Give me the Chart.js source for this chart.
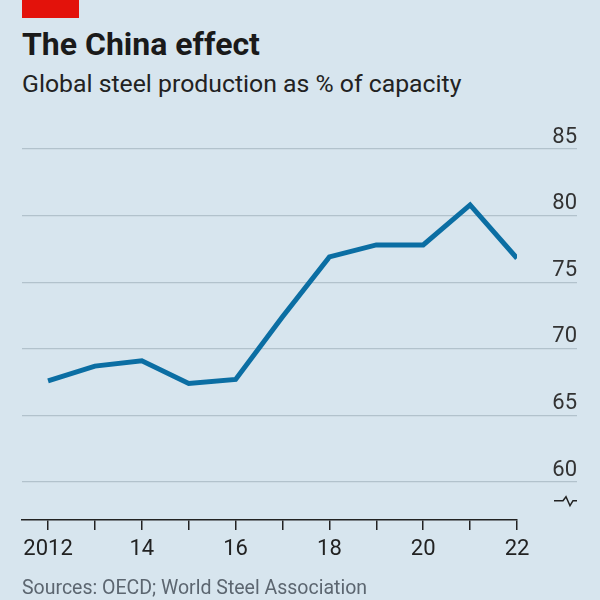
<!DOCTYPE html>
<html>
<head>
    <title>The China effect</title>
    <style>
        body {
            margin: 0;
            background-color: #d7e5ee;
            font-family: Roboto, sans-serif;
        }

        #page {
            position: relative;
            width: 600px;
            height: 600px;
            overflow: hidden;
        }

        .red-tag {
            position: absolute;
            left: 22px;
            top: 0;
            width: 57px;
            height: 18px;
            background-color: #e3120b;
        }

        .text {
            position: absolute;
            left: 22px;
            line-height: 1;
            white-space: nowrap;
        }

        #title {
            top: 28px;
            font-size: 32px;
            font-weight: bold;
            color: #1a1a1a;
        }

        #subtitle {
            top: 72px;
            font-size: 24.8px;
            color: #222;
        }

        #source {
            top: 578px;
            font-size: 19.5px;
            color: #5c6670;
        }

        canvas {
            position: absolute;
            left: 0;
            top: 0;
        }
    </style>
</head>
<body>
    <div id="page">
        <div class="red-tag"></div>
        <div id="title" class="text">The China effect</div>
        <div id="subtitle" class="text">Global steel production as % of capacity</div>
        <canvas id="chart" width="600" height="600"></canvas>
        <div id="source" class="text">Sources: OECD; World Steel Association</div>
    </div>

    <script src="https://cdn.jsdelivr.net/npm/chart.js"></script>
    <script>
// data
const years = [2012, 2013, 2014, 2015, 2016, 2017, 2018, 2019, 2020, 2021, 2022];
const utilisation = [67.6, 68.7, 69.1, 67.4, 67.7, 72.4, 76.9, 77.8, 77.8, 80.8, 76.8];
const xTickLabels = ['2012', '', '14', '', '16', '', '18', '', '20', '', '22'];
const yTickValues = [60, 65, 70, 75, 80, 85];

const tickFont = { family: 'Roboto', size: 22 };

// little zigzag below the 60 line, shows the axis doesn't start at zero
const axisBreak = {
  id: 'axisBreak',
  afterDraw(chart) {
    const { ctx, chartArea, scales } = chart;
    const y = scales.y.getPixelForValue(58.6);
    const x0 = chartArea.right + 37;
    ctx.save();
    ctx.strokeStyle = '#222';
    ctx.lineWidth = 1.5;
    ctx.beginPath();
    ctx.moveTo(x0, y);
    ctx.lineTo(x0 + 9, y);
    ctx.lineTo(x0 + 12, y - 4);
    ctx.lineTo(x0 + 16, y + 5);
    ctx.lineTo(x0 + 19, y);
    ctx.lineTo(x0 + 23, y);
    ctx.stroke();
    ctx.restore();
  }
};

const ctx = document.getElementById('chart').getContext('2d');

new Chart(ctx, {
  type: 'line',
  data: {
    datasets: [
      {
        label: 'Global steel production as % of capacity',
        data: years.map((yr, i) => ({ x: yr, y: utilisation[i] })),
        borderColor: '#0b6ea3',
        borderWidth: 5,
        pointRadius: 0,
        tension: 0,
        fill: false
      }
    ]
  },
  options: {
    responsive: false,
    devicePixelRatio: 1,
    animation: false,
    layout: {
      padding: { left: 22, top: 149, right: 23, bottom: 30 }
    },
    plugins: {
      legend: { display: false },
      tooltip: { enabled: false }
    },
    scales: {
      x: {
        type: 'linear',
        min: 2011.445,
        max: 2022,
        afterBuildTicks: (scale) => {
          scale.ticks = years.map(v => ({ value: v }));
        },
        afterFit: (scale) => {
          scale.height = 50;
        },
        border: { display: true, color: '#222', width: 1.5 },
        grid: {
          drawOnChartArea: false,
          drawTicks: true,
          tickLength: 10,
          color: '#222',
          lineWidth: 1.5
        },
        ticks: {
          autoSkip: false,
          maxRotation: 0,
          padding: 6,
          color: '#222',
          font: tickFont,
          callback: (value, index) => xTickLabels[index]
        }
      },
      y: {
        position: 'right',
        min: 57.15,
        max: 85,
        afterBuildTicks: (scale) => {
          scale.ticks = yTickValues.map(v => ({ value: v }));
        },
        afterFit: (scale) => {
          scale.width = 60;
        },
        border: { display: false },
        grid: {
          color: '#b2c2cc',
          lineWidth: 1.3,
          drawTicks: true,
          tickLength: 60
        },
        ticks: {
          crossAlign: 'far',
          labelOffset: -12,
          padding: 0,
          color: '#333',
          font: tickFont
        }
      }
    }
  },
  plugins: [axisBreak]
});
    </script>
</body>
</html>
